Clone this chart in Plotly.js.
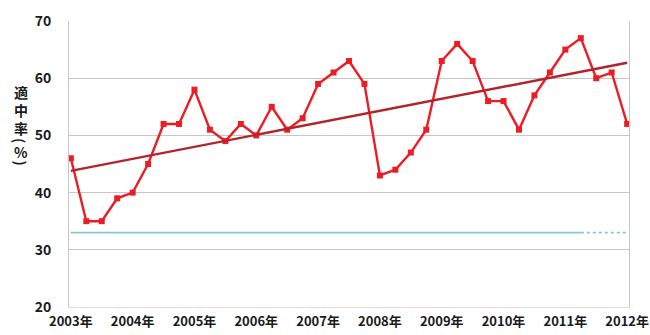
<!DOCTYPE html>
<html>
<head>
<meta charset="utf-8">
<script src="https://cdn.plot.ly/plotly-3.0.1.min.js"></script>
<style>
  html, body { margin: 0; padding: 0; background: #ffffff; }
  #chart { width: 650px; height: 335px; }
</style>
</head>
<body>
<div id="chart"></div>
<script>
// Quarterly hit rate, 2003 Q1 – 2012 Q1
const quarterIndex = [0,1,2,3,4,5,6,7,8,9,10,11,12,13,14,15,16,17,18,19,20,21,22,23,24,25,26,27,28,29,30,31,32,33,34,35,36];
const hitRate = [46,35,35,39,40,45,52,52,58,51,49,52,50,55,51,53,59,61,63,59,43,44,47,51,63,66,63,56,56,51,57,61,65,67,60,61,52];

// Linear trend endpoints
const trendX = [0, 36];
const trendY = [43.8, 62.7];

// Reference level (solid part, then dotted continuation)
const refSolidX = [0, 33];
const refSolidY = [33, 33];
const refDotX = [33, 36];
const refDotY = [33, 33];

// Year labels on the first quarter of each year
const yearTickVals = [0,4,8,12,16,20,24,28,32,36];
const yearTickText = ['2003年','2004年','2005年','2006年','2007年','2008年','2009年','2010年','2011年','2012年'];

const yTicks = [20,30,40,50,60,70];

// Vertical axis title: stacked word, then sideways brackets around the unit
const yTitleWord = ['適', '中', '率'];
const yTitleUnit = ['(', '%', ')'];

const FONT = '"Noto Sans CJK JP", "Noto Sans", sans-serif';

const traces = [
  {
    x: refSolidX, y: refSolidY, mode: 'lines',
    line: { color: '#86c6d2', width: 1.6 },
    hoverinfo: 'skip', showlegend: false
  },
  {
    x: refDotX, y: refDotY, mode: 'lines',
    line: { color: '#86c6d2', width: 1.6, dash: 'dot' },
    hoverinfo: 'skip', showlegend: false
  },
  {
    x: quarterIndex, y: hitRate, mode: 'lines+markers',
    line: { color: '#ec1c24', width: 2.4 },
    marker: { symbol: 'square', size: 6, color: '#ec1c24' },
    cliponaxis: false, showlegend: false
  },
  {
    x: trendX, y: trendY, mode: 'lines',
    line: { color: '#b3242a', width: 2.4 },
    cliponaxis: false, showlegend: false
  }
];

const margin = { l: 69, r: 21, t: 21, b: 28 };
const plotW = 650 - margin.l - margin.r;
const plotH = 335 - margin.t - margin.b;
const pxToPaperX = px => (px - margin.l) / plotW;
const pxToPaperY = py => (335 - margin.b - py) / plotH;
const titleX = pxToPaperX(20.5);

const titleAnnotations = [
  {
    text: yTitleWord.join('<br>'),
    xref: 'paper', yref: 'paper',
    x: titleX, y: pxToPaperY(110),
    xanchor: 'center', yanchor: 'middle',
    showarrow: false, align: 'center',
    font: { family: FONT, size: 14, color: '#1a1a1a', weight: 'bold' }
  }
].concat(yTitleUnit.map((ch, i) => {
  const isBracket = (ch === '(' || ch === ')');
  const centres = [140.5, 151.5, 163];
  return {
    text: ch,
    xref: 'paper', yref: 'paper',
    x: titleX, y: pxToPaperY(centres[i]),
    xanchor: 'center', yanchor: 'middle',
    showarrow: false,
    textangle: isBracket ? 90 : 0,
    font: { family: FONT, size: 14, color: '#1a1a1a', weight: 'bold' }
  };
}));

const layout = {
  width: 650, height: 335,
  margin: margin,
  paper_bgcolor: '#ffffff',
  plot_bgcolor: '#ffffff',
  font: { family: FONT, color: '#1a1a1a' },
  xaxis: {
    range: [-0.12, 36.12],
    tickmode: 'array',
    tickvals: yearTickVals,
    ticktext: yearTickText,
    tickfont: { family: FONT, size: 13, color: '#1a1a1a', weight: 'bold' },
    showgrid: false,
    zeroline: false,
    showline: true,
    linecolor: '#e2dcdc',
    linewidth: 1,
    mirror: false,
    ticks: 'outside', ticklen: 2, tickcolor: 'rgba(0,0,0,0)'
  },
  yaxis: {
    range: [20, 70],
    tickmode: 'array',
    tickvals: yTicks,
    ticktext: yTicks.map(String),
    tickfont: { family: FONT, size: 14, color: '#1a1a1a', weight: 'bold' },
    showgrid: true,
    gridcolor: '#cbc4c4',
    gridwidth: 1,
    zeroline: false,
    showline: true,
    linecolor: '#cbc4c4',
    linewidth: 1,
    mirror: true,
    ticks: 'outside', ticklen: 14, tickcolor: 'rgba(0,0,0,0)'
  },
  annotations: titleAnnotations
};

Plotly.newPlot('chart', traces, layout, { staticPlot: true, displayModeBar: false });
</script>
</body>
</html>
